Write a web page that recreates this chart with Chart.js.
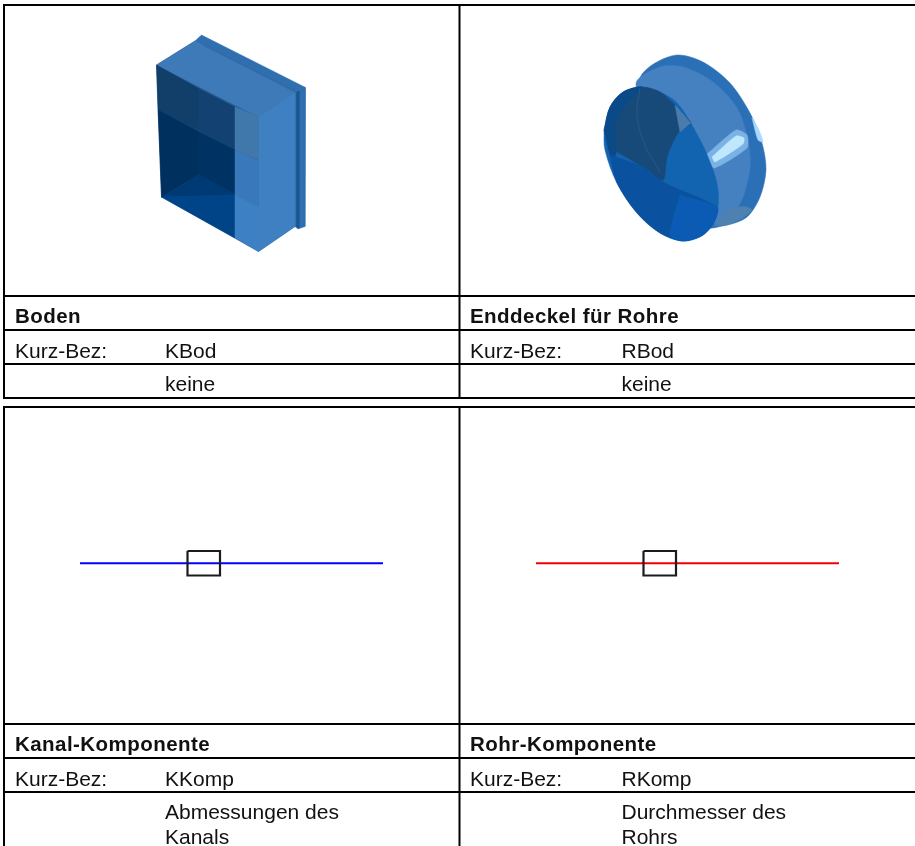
<!DOCTYPE html>
<html lang="de">
<head>
    <meta charset="UTF-8">
    <title>Kanal- und Rohr-Komponenten</title>
    <style>
        html, body { margin: 0; padding: 0; background: #fff; overflow: hidden; }
        #wrap { position: relative; width: 915px; height: 846px; }
        canvas { position: absolute; left: 0; top: 0; }
        #soft { filter: blur(0.6px); }
    </style>
</head>
<body>
    <div id="wrap">
        <canvas id="grid" width="915" height="846"></canvas>
        <canvas id="soft" width="915" height="846"></canvas>
    </div>

    <script src="https://cdn.jsdelivr.net/npm/chart.js"></script>
    <script>
        // table rules
        const rowRules = [5, 296, 330, 364, 398, 407, 724, 758, 792];
        const columnRules = [4, 459.5];
        const upperSpan = [5, 398];
        const lowerSpan = [407, 846];
        const pageRight = 915;

        // texts
        const headings = ['Boden', 'Enddeckel für Rohre', 'Kanal-Komponente', 'Rohr-Komponente'];
        const shortLabel = 'Kurz-Bez:';
        const shortNames = ['KBod', 'RBod', 'KKomp', 'RKomp'];
        const notes = [['keine'], ['keine'], ['Abmessungen des', 'Kanals'], ['Durchmesser des', 'Rohrs']];
        const labelColumn = [15, 470, 15, 470];
        const valueColumn = [165, 621.5, 165, 621.5];
        const headingRow = [323, 323, 751, 751];
        const shortRow = [357.5, 357.5, 785.5, 785.5];
        const noteRow = [391, 391, 819, 819];

        // component symbols
        const blueLine = [[80, 563.3], [383, 563.3]];
        const redLine = [[536, 563.3], [839, 563.3]];
        const leftRect = [[187.5, 551], [220, 551], [220, 575.5], [187.5, 575.5], [187.5, 551]];
        const rightRect = [[643.5, 551], [676, 551], [676, 575.5], [643.5, 575.5], [643.5, 551]];

        // square end cap
        const boxBase = [[156.5, 65], [195, 41], [295, 93], [295, 226.5], [258.5, 251.5], [161.5, 197], [156.5, 65]];
        const boxFlange = [[195, 41], [201.5, 35], [305.5, 87.5], [305, 226.5], [298, 229], [295, 226.5], [295, 93], [195, 41]];
        const boxFlangeDark = [[296.5, 92], [299, 91], [299, 228], [296.5, 227], [296.5, 92]];
        const boxRidge = [[203, 45], [297, 92]];
        const boxTop = [[156.5, 65], [195, 41], [295, 93], [258.5, 117], [156.5, 65]];
        const boxSide = [[258.5, 117], [295, 93], [295, 226.5], [258.5, 251.5], [258.5, 117]];
        const boxInnerA = [[156.5, 65], [198, 88], [198, 130], [158, 110], [156.5, 65]];
        const boxInnerB = [[198, 88], [235, 107], [235, 150], [198, 130], [198, 88]];
        const boxInnerC = [[235, 107], [258.5, 117], [258.5, 160], [235, 150], [235, 107]];
        const boxInnerD = [[158, 110], [198, 131], [198, 175], [161.5, 197], [158, 110]];
        const boxInnerE = [[198, 131], [235, 150], [235, 194], [198, 175], [198, 131]];
        const boxInnerF = [[161.5, 197], [198, 175], [235, 194], [235, 195], [161.5, 197]];
        const boxFloor = [[161.5, 197], [235, 195], [235, 238], [161.5, 197]];
        const boxInnerG = [[235, 150], [258.5, 161], [258.5, 207], [235, 195], [235, 150]];
        const boxInnerH = [[235, 195], [258.5, 207], [258.5, 251.5], [235, 238], [235, 195]];

        // round end cap, outlines read around each curve
        const capFlange = [[660, 150], [640, 80], [652, 65], [677, 55], [703, 62], [730, 83], [750, 113], [762, 143], [766, 170], [760, 197], [747, 217], [727, 225], [700, 226], [660, 150]];
        const capBody = [[660, 150], [636, 84], [660, 67], [683, 67], [713, 82], [737, 108], [748, 140], [750, 167], [743, 197], [733, 213], [717, 223], [690, 225], [660, 150]];
        const capBottom = [[714, 226], [732, 208], [747, 207], [752, 210], [743, 218], [727, 225], [714, 226]];
        const capGlow = [[706, 155], [736, 130], [747, 135], [747, 148], [714, 168], [706, 155]];
        const capHighlight = [[712, 157], [736, 136], [744, 138], [743, 144], [715, 162], [712, 157]];
        const capRimLight = [[752, 118], [759, 130], [763, 142], [758, 140], [752, 118]];
        const capOpening = [[604, 130], [610, 107], [623, 92], [642, 87], [660, 92], [677, 103], [693, 127], [708, 157], [718, 190], [715, 220], [703, 235], [683, 241], [660, 233], [637, 213], [617, 183], [605, 150], [604, 130]];
        const capShade = [[608, 150], [612, 118], [623, 93], [642, 87], [660, 92], [675, 105], [680, 113], [691, 123], [678, 133], [667, 157], [663, 180], [643, 167], [613, 150], [608, 150]];
        const capLeft = [[604, 130], [610, 107], [623, 92], [642, 87], [625, 105], [615, 125], [616, 153], [612, 160], [604, 130]];
        const capGrey = [[675, 105], [691, 123], [680, 132], [675, 105]];
        const capBand = [[610, 155], [643, 167], [665, 183], [717, 207], [715, 220], [703, 235], [683, 241], [660, 233], [637, 213], [617, 183], [610, 155]];
        const capBandBright = [[680, 195], [717, 207], [715, 220], [703, 235], [683, 241], [670, 235], [680, 195]];
        const capArc = [[640, 88], [637, 115], [645, 145], [660, 172]];

        function polygon(points, color, tension) {
            return {
                data: points.map(p => ({ x: p[0], y: p[1] })),
                backgroundColor: color,
                borderColor: color,
                borderWidth: 0.5,
                fill: 'shape',
                tension: tension || 0,
                pointRadius: 0
            };
        }

        function stroke(points, color, width, tension) {
            return {
                data: points.map(p => ({ x: p[0], y: p[1] })),
                borderColor: color,
                borderWidth: width,
                fill: false,
                tension: tension || 0,
                pointRadius: 0
            };
        }

        function ruleDatasets() {
            const sets = [];
            rowRules.forEach(y => sets.push(stroke([[columnRules[0] - 1, y], [pageRight, y]], '#000', 2)));
            columnRules.forEach(x => {
                sets.push(stroke([[x, upperSpan[0] - 1], [x, upperSpan[1] + 1]], '#000', 2));
                sets.push(stroke([[x, lowerSpan[0] - 1], [x, lowerSpan[1]]], '#000', 2));
            });
            return sets;
        }

        const symbolSets = [
            stroke(blueLine, '#0000ff', 2),
            stroke(redLine, '#f00000', 2),
            stroke(leftRect, '#1c1c1c', 2.2),
            stroke(rightRect, '#1c1c1c', 2.2),

            polygon(boxFlange, '#2f6fb0'),
            polygon(boxFlangeDark, '#1b568f'),
            polygon(boxBase, '#2a5f96'),
            polygon(boxTop, '#3f7ab8'),
            stroke(boxRidge, '#3068a6', 1),
            polygon(boxSide, '#3f80c2'),
            polygon(boxInnerA, '#123f69'),
            polygon(boxInnerB, '#134272'),
            polygon(boxInnerC, '#4078ac'),
            polygon(boxInnerD, '#00305e'),
            polygon(boxInnerE, '#003264'),
            polygon(boxInnerF, '#003a75'),
            polygon(boxFloor, '#004488'),
            polygon(boxInnerG, '#3a78bc'),
            polygon(boxInnerH, '#3e80c4'),

            polygon(capFlange, '#2b70b6', 0.3),
            polygon(capBody, '#4580c0', 0.3),
            polygon(capBottom, '#4e80b0', 0.2),
            polygon(capGlow, '#7ab2e6', 0.2),
            polygon(capHighlight, '#bfe8ff', 0.2),
            polygon(capRimLight, '#a8d8ff', 0.2),
            polygon(capOpening, '#1263b0', 0.35),
            polygon(capShade, '#174a78', 0.25),
            polygon(capLeft, '#0b4a88', 0.3),
            polygon(capGrey, '#4a7cab'),
            polygon(capBand, '#0a52a0', 0.25),
            polygon(capBandBright, '#0b5ab4', 0.25),
            stroke(capArc, '#26598a', 1, 0.4)
        ];

        // writes the table texts through the chart's scales
        const tableText = {
            id: 'tableText',
            afterDatasetsDraw(chart) {
                const ctx = chart.ctx;
                const sx = chart.scales.x;
                const sy = chart.scales.y;
                const regular = '21px "Liberation Sans", Arial, sans-serif';
                const bold = 'bold 20.5px "Liberation Sans", Arial, sans-serif';
                ctx.save();
                ctx.fillStyle = '#111';
                ctx.textBaseline = 'alphabetic';
                headings.forEach((text, i) => {
                    ctx.font = bold;
                    ctx.letterSpacing = '0.45px';
                    ctx.fillText(text, sx.getPixelForValue(labelColumn[i]), sy.getPixelForValue(headingRow[i]));
                    ctx.font = regular;
                    ctx.letterSpacing = '0px';
                    ctx.fillText(shortLabel, sx.getPixelForValue(labelColumn[i]), sy.getPixelForValue(shortRow[i]));
                    ctx.fillText(shortNames[i], sx.getPixelForValue(valueColumn[i]), sy.getPixelForValue(shortRow[i]));
                    notes[i].forEach((line, n) => {
                        ctx.fillText(line, sx.getPixelForValue(valueColumn[i]), sy.getPixelForValue(noteRow[i] + n * 25));
                    });
                });
                ctx.restore();
            }
        };

        function makeChart(id, datasets, plugins) {
            return new Chart(document.getElementById(id), {
                type: 'line',
                // Chart.js paints the first dataset last, so flip to keep back-to-front order
                data: { datasets: datasets.slice().reverse() },
                plugins: plugins,
                options: {
                    responsive: false,
                    animation: false,
                    layout: { padding: 0 },
                    plugins: {
                        legend: { display: false },
                        tooltip: { enabled: false },
                        filler: { propagate: false, drawTime: 'beforeDatasetDraw' }
                    },
                    scales: {
                        x: { type: 'linear', display: false, min: 0, max: 915 },
                        y: { type: 'linear', display: false, min: 0, max: 846, reverse: true }
                    }
                }
            });
        }

        makeChart('grid', ruleDatasets(), []);
        makeChart('soft', symbolSets, [tableText]);
    </script>
</body>
</html>
